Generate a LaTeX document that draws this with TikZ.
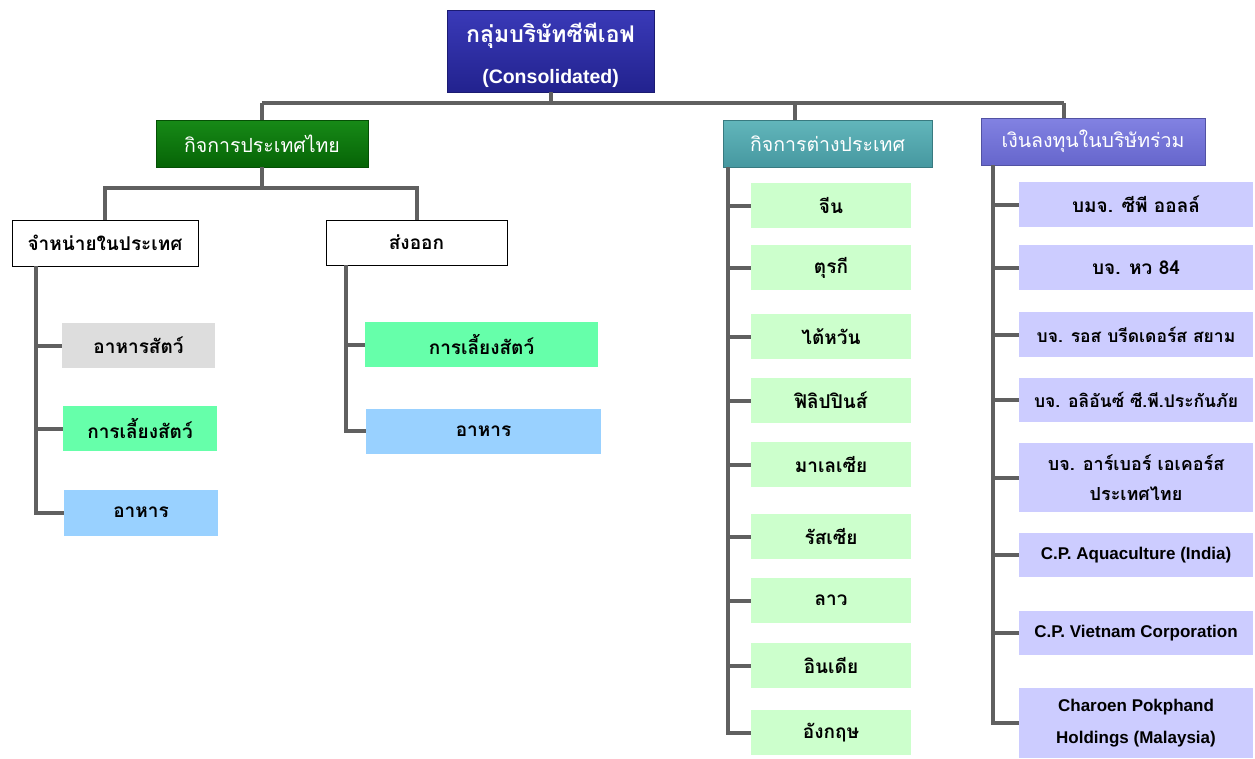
\documentclass[tikz,border=0pt]{standalone}
\usepackage{fontspec}
\setmainfont{Liberation Sans}
\newfontfamily\thai[Script=Thai]{Loma}
\usetikzlibrary{calc}
\definecolor{linegray}{HTML}{606060}
\definecolor{topA}{HTML}{3A3AB8}
\definecolor{topB}{HTML}{22228E}
\definecolor{grnA}{HTML}{178A17}
\definecolor{grnB}{HTML}{066406}
\definecolor{tealA}{HTML}{62B6BB}
\definecolor{tealB}{HTML}{4698A0}
\definecolor{purA}{HTML}{8282E2}
\definecolor{purB}{HTML}{6666CC}
\definecolor{leafgreen}{HTML}{CCFFCC}
\definecolor{leafpurple}{HTML}{CCCCFF}
\definecolor{mint}{HTML}{66FFAA}
\definecolor{skyblue}{HTML}{99D1FF}
\definecolor{lgray}{HTML}{DDDDDD}
\begin{document}
\begin{tikzpicture}[x=1pt,y=-1pt,
  conn/.style={draw=linegray, line width=4pt},
  head/.style={inner sep=0pt, align=center, text=white, draw=#1B!80!black, line width=0.8pt,
     top color=#1A, bottom color=#1B, font=\thai\fontsize{19.5}{24}\selectfont},
  leaf/.style={inner sep=0pt, align=center, fill=#1, font=\thai\bfseries\fontsize{19}{22}\selectfont},
  wbox/.style={inner sep=0pt, align=center, draw=black, line width=0.8pt, fill=white, font=\thai\bfseries\fontsize{19}{22}\selectfont},
  lat/.style={font=\bfseries\fontsize{17}{32}\selectfont},
  small/.style={font=\thai\bfseries\fontsize{17.5}{22}\selectfont}
]
\useasboundingbox (0,0) rectangle (1255,758);

% top
\node[head=top, minimum width=207, minimum height=82,
  label={[name=toptext, text=white, align=center, inner sep=0pt, yshift=-4pt,
          font=\thai\bfseries\fontsize{23}{40}\selectfont]center:กลุ่มบริษัทซีพีเอฟ\\[1pt]{\normalfont\bfseries\fontsize{19.5}{20}\selectfont (Consolidated)}}]
  (top) at (550.5,51) {};

% level 1
\node[head=grn, minimum width=212, minimum height=47] (th) at (262,143.5) {กิจการประเทศไทย};
\node[head=teal, minimum width=209, minimum height=47] (fr) at (827.5,143.5) {กิจการต่างประเทศ};
\node[head=pur, minimum width=224, minimum height=47] (jv) at (1093,141.5) {เงินลงทุนในบริษัทร่วม};

% level 2 (Thai)
\node[wbox, minimum width=186, minimum height=46] (dom) at (105,243) {จำหน่ายในประเทศ};
\node[wbox, minimum width=181, minimum height=45] (exp) at (416.5,242.5) {ส่งออก};

\node[leaf=lgray, minimum width=153, minimum height=45] (d1) at (138.5,345.5) {อาหารสัตว์};
\node[leaf=mint, minimum width=154, minimum height=45] (d2) at (140,428.5) {การเลี้ยงสัตว์};
\node[leaf=skyblue, minimum width=154, minimum height=46] (d3) at (141,512.5) {อาหาร};

\node[leaf=mint, minimum width=233, minimum height=45] (e1) at (481.5,344.5) {การเลี้ยงสัตว์};
\node[leaf=skyblue, minimum width=235, minimum height=45] (e2) at (483.5,431) {อาหาร};

% foreign
\node[leaf=leafgreen, minimum width=160, minimum height=45] (f1) at (831,205.5) {จีน};
\node[leaf=leafgreen, minimum width=160, minimum height=45] (f2) at (831,267.5) {ตุรกี};
\node[leaf=leafgreen, minimum width=160, minimum height=45] (f3) at (831,336.5) {ไต้หวัน};
\node[leaf=leafgreen, minimum width=160, minimum height=45] (f4) at (831,400.5) {ฟิลิปปินส์};
\node[leaf=leafgreen, minimum width=160, minimum height=45] (f5) at (831,464.5) {มาเลเซีย};
\node[leaf=leafgreen, minimum width=160, minimum height=45] (f6) at (831,536.5) {รัสเซีย};
\node[leaf=leafgreen, minimum width=160, minimum height=45] (f7) at (831,600.5) {ลาว};
\node[leaf=leafgreen, minimum width=160, minimum height=45] (f8) at (831,665.5) {อินเดีย};
\node[leaf=leafgreen, minimum width=160, minimum height=45] (f9) at (831,732.5) {อังกฤษ};

% joint ventures
\node[leaf=leafpurple, minimum width=234, minimum height=45] (j1) at (1136,204.5) {บมจ. ซีพี ออลล์};
\node[leaf=leafpurple, minimum width=234, minimum height=45] (j2) at (1136,267.5) {บจ. หว 84};
\node[leaf=leafpurple, small, minimum width=234, minimum height=45] (j3) at (1136,334.5) {บจ. รอส บรีดเดอร์ส สยาม};
\node[leaf=leafpurple, small, minimum width=234, minimum height=44] (j4) at (1136,400) {บจ. อลิอันซ์ ซี.พี.ประกันภัย};
\node[leaf=leafpurple, minimum width=234, minimum height=69, font=\thai\bfseries\fontsize{18}{30}\selectfont] (j5) at (1136,477.5) {บจ. อาร์เบอร์ เอเคอร์ส\\ประเทศไทย};
\node[leaf=leafpurple, lat, minimum width=234, minimum height=44] (j6) at (1136,555) {C.P. Aquaculture (India)};
\node[leaf=leafpurple, lat, minimum width=234, minimum height=44] (j7) at (1136,633) {C.P. Vietnam Corporation};
\node[leaf=leafpurple, lat, minimum width=234, minimum height=70] (j8) at (1136,723) {Charoen Pokphand\\Holdings (Malaysia)};

% connectors
\coordinate (bus) at (0,103);
\coordinate (frx) at ([xshift=72pt]fr.north west);
\coordinate (jvx) at ([xshift=83pt]jv.north west);
\draw[conn] (top.south) -- (top.south |- bus);
\draw[conn] (th.north |- bus) -- (jvx |- bus);
\draw[conn] (th.north |- bus) -- (th.north);
\draw[conn] (frx |- bus) -- (frx);
\draw[conn] (jvx |- bus) -- (jvx);

\coordinate (tbus) at (0,188);
\draw[conn] (th.south) -- (th.south |- tbus);
\draw[conn] (dom.north) |- (th.south |- tbus) -| (exp.north);

\coordinate (dx) at (36,0);
\draw[conn] (dx |- dom.south) |- (d3.west);
\draw[conn] (d1.west) -- (d1.west -| dx);
\draw[conn] (d2.west) -- (d2.west -| dx);

\coordinate (ex) at (346,0);
\draw[conn] (ex |- exp.south) |- (e2.west);
\draw[conn] (e1.west) -- (e1.west -| ex);

\coordinate (fx) at (728,0);
\draw[conn] (fx |- fr.south) |- (f9.west);
\foreach \n in {f1,f2,f3,f4,f5,f6,f7,f8} \draw[conn] (\n.west) -- (\n.west -| fx);

\coordinate (jx) at (993,0);
\draw[conn] (jx |- jv.south) |- (j8.west);
\foreach \n in {j1,j2,j3,j4,j5,j6,j7} \draw[conn] (\n.west) -- (\n.west -| jx);
\end{tikzpicture}
\end{document}
